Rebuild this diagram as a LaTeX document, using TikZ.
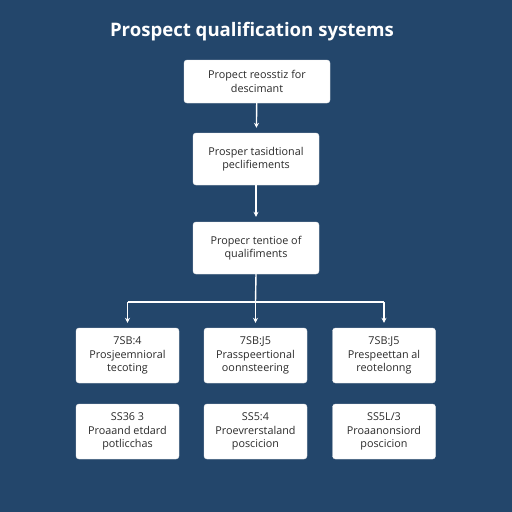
\documentclass[tikz,border=0pt]{standalone}
\usepackage{fontspec}
\setmainfont{Open Sans}
\usetikzlibrary{arrows.meta}
\definecolor{bgblue}{HTML}{23466B}
\definecolor{boxtext}{HTML}{2A2A2A}
\begin{document}
\begin{tikzpicture}[x=1pt,y=-1pt,
  box/.style={draw=white!85!gray, fill=white, rounded corners=3pt, inner sep=0pt, align=center, text=boxtext, font=\fontsize{10.8}{13.5}\selectfont},
  conn/.style={draw=white, line width=1.4pt},
  arr/.style={conn, -{Stealth[length=5pt,width=5pt]}, shorten >=5pt}]
\fill[bgblue] (0,0) rectangle (512,512);
\useasboundingbox (0,0) rectangle (512,512);
\node[text=white, font=\bfseries\fontsize{18.6}{22}\selectfont] (title) at (252,32) {Prospect qualification systems};
\node[box, minimum width=146pt, minimum height=43pt] (b1) at (257,81.5) {Propect reosstiz for\\descimant};
\node[box, minimum width=126pt, minimum height=52pt] (b2) at (256,159) {Prosper tasidtional\\peclifiements};
\node[box, minimum width=126pt, minimum height=52pt] (b3) at (256,248) {Propecr tentioe of\\qualifiments};
\node[box, minimum width=103pt, minimum height=55pt] (c1) at (127.5,355.5) {7SB:4\\Prosjeemnioral\\tecoting};
\node[box, minimum width=103pt, minimum height=55pt] (c2) at (255.5,355.5) {7SB:J5\\Prasspeertional\\oonnsteering};
\node[box, minimum width=103pt, minimum height=55pt] (c3) at (384,355.5) {7SB:J5\\Prespeettan al\\reotelonng};
\node[box, minimum width=103pt, minimum height=55pt] (d1) at (127.5,431.5) {SS36 3\\Proaand etdard\\potlicchas};
\node[box, minimum width=103pt, minimum height=55pt] (d2) at (255.5,431.5) {SS5:4\\Proevrerstaland\\poscicion};
\node[box, minimum width=103pt, minimum height=55pt] (d3) at (384,431.5) {SS5L/3\\Proaanonsiord\\poscicion};
\coordinate (j) at (255.5,302);
\coordinate (jl) at (127.5,302);
\coordinate (jr) at (384,302);
\draw[arr] (b1) -- (b2);
\draw[arr] (b2) -- (b3);
\draw[conn] (b3.south) -- (j);
\draw[conn] (jl) -- (jr);
\draw[arr] (jl) -- (c1);
\draw[arr] (j) -- (c2);
\draw[arr] (jr) -- (c3);
\end{tikzpicture}
\end{document}
